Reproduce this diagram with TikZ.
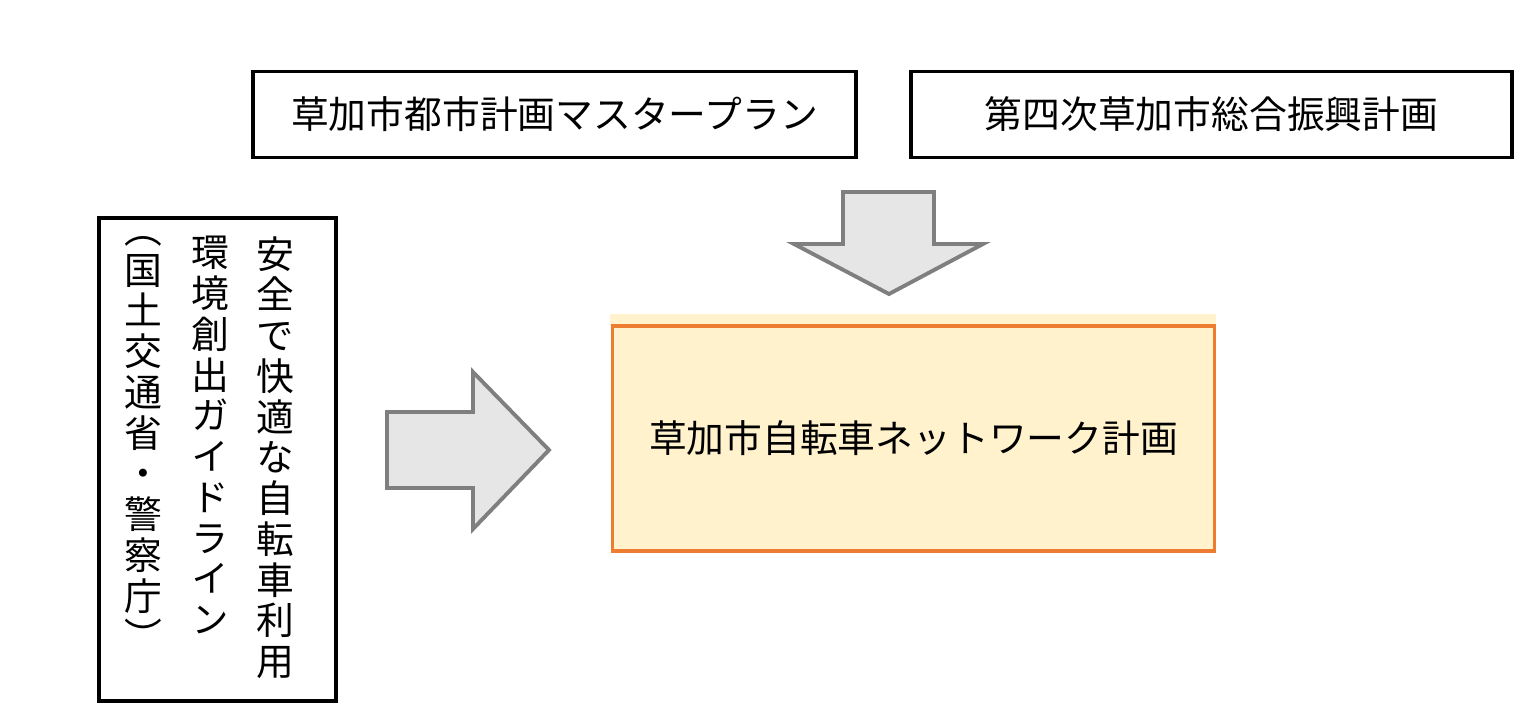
\documentclass[tikz,border=0pt]{standalone}
\usepackage{fontspec}
\setmainfont{Noto Sans CJK JP}
\newfontfamily\vertfont[RawFeature=+vert]{Noto Sans CJK JP}
\definecolor{planOrange}{HTML}{ED7D31}
\definecolor{planCream}{HTML}{FFF2CC}
\definecolor{arrowGrey}{HTML}{7F7F7F}
\definecolor{arrowFill}{HTML}{E7E6E6}
\usetikzlibrary{positioning}
\tikzset{
    plan node/.style={rectangle, draw=black, line width=2.2pt, inner sep=0pt,
        minimum width=12.06cm, minimum height=1.72cm, align=center, font=\fontsize{21.5}{24}\selectfont},
    main node/.style={rectangle, draw=planOrange, fill=planCream, line width=2.2pt, inner sep=0pt,
        minimum width=12.04cm, minimum height=4.5cm, align=center, font=\fontsize{21.5}{24}\selectfont},
    guide node/.style={rectangle, draw=black, line width=2.2pt, inner sep=0pt,
        minimum width=4.74cm, minimum height=9.66cm},
    vert text/.style={anchor=north, inner sep=0pt, align=center, font=\vertfont\fontsize{21.5}{23.2}\selectfont},
    block arrow/.style={draw=arrowGrey, fill=arrowFill, line width=2.2pt, line join=miter},
}

\begin{document}
\begin{tikzpicture}[x=0.02cm, y=-0.02cm]
    \useasboundingbox (0,0) rectangle (1518,706);

    % upper plans
    \node[plan node] (master) at (554.5,114.5) {草加市都市計画マスタープラン};
    \node[plan node, minimum width=12.02cm] (sogo) at (1211.5,114.5) {第四次草加市総合振興計画};

    % national guideline (vertical text)
    \node[guide node] (guide) at (217.5,459.5) {};
    \node[vert text] (gline1) at (275,236) {安\\全\\で\\快\\適\\な\\自\\転\\車\\利\\用};
    \node[vert text] (gline2) at (210,236) {環\\境\\創\\出\\ガ\\イ\\ド\\ラ\\イ\\ン};
    \node[vert text] (gline3) at (143,236) {（\\国\\土\\交\\通\\省\\・\\警\\察\\庁\\）};

    % network plan
    \fill[planCream] (610,314) rectangle (1216,326);
    \node[main node] (network) at (913.5,438.5) {草加市自転車ネットワーク計画};

    % block arrows
    \draw[block arrow] (843,192) -- (934,192) -- (934,244) -- (983,244) -- (889,294)
        -- (794,244) -- (843,244) -- cycle;
    \draw[block arrow] (387,412) -- (473,412) -- (473,372) -- (549,450) -- (473,529)
        -- (473,488) -- (387,488) -- cycle;
\end{tikzpicture}
\end{document}
